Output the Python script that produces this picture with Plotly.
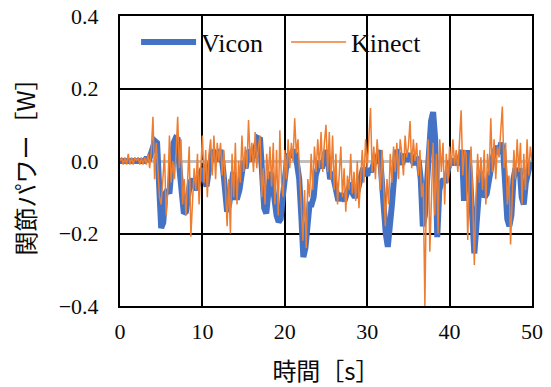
import plotly.graph_objects as go

# ---- data ----
vicon_t = [i * 0.25 for i in range(201)]
vicon_p = [
    0.00, 0.00, 0.00, 0.00,
    0.00, 0.00, 0.00, 0.00,
    0.00, 0.00, 0.00, 0.00,
    0.00, 0.01, 0.00, 0.02,
    0.04, 0.055, 0.05, -0.10,
    -0.185, -0.17, -0.09, -0.08,
    -0.09, -0.02, 0.05, 0.063,
    0.06, -0.03, -0.12, -0.145,
    -0.14, -0.10, -0.06, -0.05,
    -0.07, -0.08, -0.06, -0.04,
    -0.02, -0.05, -0.07, -0.03,
    0.00, 0.03, 0.02, 0.00,
    0.02, 0.03, -0.02, -0.10,
    -0.14, -0.12, -0.05, -0.03,
    -0.10, -0.10, -0.08, -0.03,
    0.00, -0.02, 0.02, 0.03,
    0.00, 0.02, 0.04, 0.063,
    0.06, -0.05, -0.13, -0.145,
    -0.08, -0.03, -0.06, -0.12,
    -0.15, -0.168, -0.16, -0.10,
    -0.03, 0.00, 0.02, 0.01,
    0.03, 0.02, -0.01, -0.05,
    -0.15, -0.265, -0.24, -0.15,
    -0.12, -0.12, -0.10, -0.04,
    -0.01, 0.00, -0.02, 0.01,
    0.03, 0.00, -0.05, -0.03,
    -0.06, -0.10, -0.11, -0.09,
    -0.10, -0.11, -0.09, -0.07,
    -0.06, -0.09, -0.10, -0.09,
    -0.06, -0.04, -0.02, -0.03,
    -0.04, -0.02, -0.03, -0.01,
    0.00, 0.01, 0.03, -0.06,
    -0.14, -0.20, -0.237, -0.15,
    -0.12, -0.05, 0.03, 0.02,
    0.01, -0.01, 0.02, 0.00,
    0.01, 0.02, 0.00, -0.01,
    0.01, 0.00, -0.05, -0.18,
    -0.15, -0.05, 0.06, 0.11,
    0.135, 0.06, -0.21, -0.08,
    -0.06, -0.05, -0.06, -0.02,
    0.00, -0.01, 0.00, 0.00,
    -0.01, 0.01, 0.03, -0.11,
    -0.05, 0.03, -0.05, -0.15,
    -0.255, -0.18, -0.08, -0.03,
    -0.06, -0.10, -0.09, -0.05,
    -0.03, 0.01, 0.03, 0.04,
    0.02, 0.05, 0.03, -0.10,
    -0.16, -0.18, -0.15, -0.05,
    -0.02, -0.04, -0.02, -0.10,
    -0.12, -0.06, -0.03, -0.01,
    -0.01,
]

kinect_t = [round(i * 0.2, 2) for i in range(251)]
kinect_p = [
    0.00, 0.01, -0.01, 0.01, -0.01,
    0.02, -0.01, 0.01, -0.01, 0.01,
    0.00, 0.01, -0.01, 0.01, -0.01,
    0.01, -0.01, 0.02, -0.02, 0.03,
    0.122, -0.05, 0.05, -0.02, -0.10,
    -0.12, -0.05, 0.02, -0.15, -0.08,
    0.07, -0.06, 0.00, -0.05, 0.02,
    0.122, -0.02, 0.06, -0.12, -0.05,
    -0.15, -0.03, 0.04, -0.209, -0.10,
    -0.02, -0.08, 0.02, -0.12, -0.03,
    0.07, -0.06, 0.03, -0.10, 0.02,
    0.06, -0.04, 0.07, -0.05, 0.05,
    0.00, 0.05, -0.04, 0.03, -0.08,
    -0.18, -0.05, -0.20, 0.02, -0.10,
    0.05, -0.12, 0.00, -0.06, 0.07,
    -0.03, 0.04, -0.02, 0.113, 0.00,
    0.05, -0.03, 0.08, -0.02, 0.04,
    0.07, -0.10, -0.02, -0.12, 0.02,
    -0.05, 0.04, -0.07, 0.05, -0.12,
    0.03, -0.15, 0.085, -0.06, -0.10,
    0.03, -0.05, 0.06, -0.02, 0.05,
    0.00, 0.118, 0.02, 0.06, -0.05,
    -0.12, -0.22, -0.08, -0.24, -0.05,
    -0.10, 0.02, -0.08, 0.04, -0.03,
    0.06, -0.02, 0.08, -0.03, 0.05,
    0.10, -0.03, 0.08, -0.05, 0.07,
    -0.08, 0.02, -0.12, -0.05, 0.04,
    -0.10, -0.02, -0.14, -0.04, -0.08,
    0.02, -0.09, -0.03, -0.11, 0.00,
    -0.13, -0.05, 0.03, -0.06, 0.06,
    -0.02, 0.05, 0.146, -0.03, 0.04,
    -0.05, 0.06, 0.00, -0.08, 0.03,
    -0.10, -0.18, -0.05, -0.12, 0.02,
    -0.06, 0.04, -0.03, 0.05, -0.05,
    0.06, 0.02, -0.04, 0.07, 0.01,
    0.04, 0.11, -0.02, 0.06, 0.00,
    0.05, -0.04, 0.03, -0.10, -0.06,
    -0.40, -0.05, 0.06, -0.25, -0.08,
    0.05, -0.15, 0.02, -0.20, 0.06,
    -0.03, 0.05, -0.12, 0.02, -0.06,
    0.04, -0.02, 0.06, -0.01, 0.03,
    -0.03, 0.05, 0.14, -0.04, 0.03,
    0.02, -0.218, -0.03, 0.04, -0.10,
    -0.287, -0.10, 0.02, -0.06, 0.01,
    -0.08, 0.03, -0.12, 0.02, -0.04,
    0.118, -0.03, 0.06, -0.05, 0.04,
    0.01, 0.07, 0.15, -0.02, 0.05,
    -0.12, -0.04, -0.23, -0.08, 0.03,
    -0.05, 0.06, -0.03, 0.05, -0.12,
    0.02, -0.08, 0.06, -0.04, 0.04,
    0.00,
]

x_ticks = [0, 10, 20, 30, 40, 50]
y_ticks = [-0.4, -0.2, 0.0, 0.2, 0.4]
y_ticklabels = ["−0.4", "−0.2", "0.0", "0.2", "0.4"]

num_font = "'Liberation Serif', 'Times New Roman', serif"
jp_font = "'Noto Sans CJK JP', sans-serif"
txt_color = "#0a0a0a"

fig = go.Figure()
fig.add_trace(go.Scatter(
    x=vicon_t, y=vicon_p, name="Vicon", mode="lines",
    line=dict(color="#4472C4", width=6),
))
fig.add_trace(go.Scatter(
    x=kinect_t, y=kinect_p, name="Kinect", mode="lines",
    line=dict(color="#ED7D31", width=1.5),
))

fig.update_layout(
    width=551, height=387,
    margin=dict(l=120, r=19, t=16, b=81),
    paper_bgcolor="white", plot_bgcolor="white",
    font=dict(family=num_font, size=21, color=txt_color),
    showlegend=True,
    legend=dict(
        orientation="h", x=0.039, xanchor="left", y=0.91, yanchor="middle",
        entrywidth=80, itemwidth=55, bgcolor="rgba(255,255,255,0)",
        font=dict(family=num_font, size=26, color=txt_color),
    ),
)
fig.update_xaxes(
    range=[0, 50], tickvals=x_ticks, automargin=False,
    showgrid=True, gridcolor="black", gridwidth=2,
    zeroline=False,
    showline=True, linecolor="black", linewidth=2, mirror=True,
    ticks="", ticklabelstandoff=5,
    tickfont=dict(family=num_font, size=22, color=txt_color),
    title=dict(text="時間［s］", font=dict(family=jp_font, size=24, color=txt_color), standoff=32),
)
fig.update_yaxes(
    range=[-0.4, 0.4], tickvals=y_ticks, ticktext=y_ticklabels, automargin=False,
    showgrid=True, gridcolor="black", gridwidth=2,
    zeroline=True, zerolinecolor="#BFBFBF", zerolinewidth=2.5,
    showline=True, linecolor="black", linewidth=2, mirror=True,
    ticks="", ticklabelstandoff=15,
    tickfont=dict(family=num_font, size=22, color=txt_color),
    title=dict(text="関節パワー［W］", font=dict(family=jp_font, size=24, color=txt_color), standoff=16),
)

fig.write_html(
    "out.html",
    config={"displayModeBar": False},
    post_script="document.body.style.margin='0';document.body.style.padding='0';",
)
